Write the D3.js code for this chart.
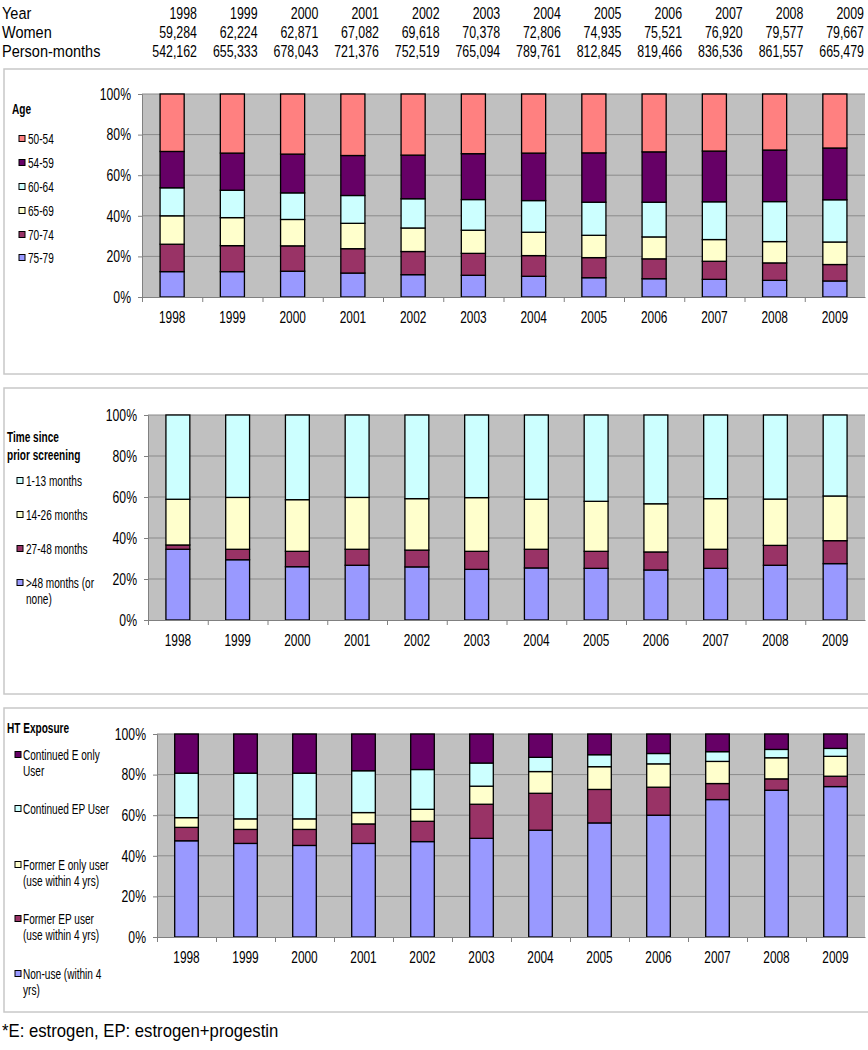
<!DOCTYPE html>
<html>
<head>
<meta charset="utf-8">
<script src="https://cdn.jsdelivr.net/npm/d3@7"></script>
<style>
html,body{margin:0;padding:0;background:#fff;}
svg{display:block;}
text{font-family:"Liberation Sans",Arial,sans-serif;}
</style>
</head>
<body>
<svg id="chart" width="868" height="1050"></svg>
<script>
// ---------- data ----------
const years = ["1998","1999","2000","2001","2002","2003","2004","2005","2006","2007","2008","2009"];
const women = [59284, 62224, 62871, 67082, 69618, 70378, 72806, 74935, 75521, 76920, 79577, 79667];
const personMonths = [542162, 655333, 678043, 721376, 752519, 765094, 789761, 812845, 819466, 836536, 861557, 665479];
const tableLabels = ["Year", "Women", "Person-months"];
const yTicks = [0, 0.2, 0.4, 0.6, 0.8, 1];

// Age (bottom to top), percent
const age7579 = [12.5,12.5,12.7,11.8,11.0,10.7,10.2,9.5,9.0,8.7,8.2,7.9];
const age7074 = [13.5,12.8,12.5,12.0,11.4,10.8,10.2,9.9,9.8,8.9,8.6,8.1];
const age6569 = [14.0,13.8,13.0,12.5,11.6,11.4,11.5,11.0,10.8,10.7,10.5,11.1];
const age6064 = [13.8,13.5,13.1,13.7,14.4,15.1,15.6,16.3,17.1,18.6,19.7,20.8];
const age5459 = [17.9,18.3,19.1,19.7,21.5,22.6,23.4,24.3,24.8,25.0,25.4,25.5];
const age5054 = [28.3,29.1,29.6,30.3,30.1,29.4,29.1,29.0,28.5,28.1,27.6,26.6];

// Time since prior screening (bottom to top)
const scrOver48 = [34.5,29.4,26.0,26.7,25.9,24.7,25.4,25.2,24.4,25.2,26.7,27.5];
const scr27to48 = [2.1,5.1,7.5,7.8,8.2,8.8,9.1,8.3,8.8,9.3,9.7,11.2];
const scr14to26 = [22.3,25.3,25.2,25.3,25.1,26.2,24.4,24.4,23.5,24.7,22.6,21.8];
const scr1to13  = [41.1,40.2,41.3,40.2,40.8,40.3,41.1,42.1,43.3,40.8,41.0,39.5];

// HT exposure (bottom to top)
const htNonUse   = [47.4,46.1,45.1,46.1,47.0,48.6,52.6,56.2,60.0,67.7,72.3,74.1];
const htFormerEP = [6.6,6.9,7.9,9.6,10.0,16.8,18.2,16.5,13.8,7.9,5.6,5.1];
const htFormerE  = [4.8,5.2,5.2,5.6,5.9,8.9,10.7,11.2,11.5,10.9,10.4,9.8];
const htContEP   = [21.9,22.5,22.5,20.6,19.6,11.4,7.0,5.9,5.1,4.8,4.1,3.9];
const htContE    = [19.3,19.3,19.3,18.1,17.5,14.3,11.5,10.2,9.6,8.7,7.6,7.1];

const footnote = "*E: estrogen, EP: estrogen+progestin";

// ---------- drawing ----------
const svg = d3.select("#chart");
svg.append("rect").attr("width",868).attr("height",1050).attr("fill","#fff");

// table
const colX = d3.scaleLinear().domain([0, 11]).range([197, 864]);
const rowY = [13, 32, 51];
const fmt = d3.format(",");
const rows = [years, women.map(fmt), personMonths.map(fmt)];
rows.forEach((row, r) => {
  svg.append("text").attr("data-sx",0.88).attr("x",2).attr("y",rowY[r]).attr("dy","0.36em")
    .attr("font-size",16.5).attr("fill","#000").text(tableLabels[r]);
  svg.selectAll(null).data(row).enter().append("text").attr("data-sx",0.75)
    .attr("x",(d,i)=>colX(i)).attr("y",rowY[r]).attr("dy","0.36em")
    .attr("text-anchor","end").attr("font-size",16.5).attr("fill","#000").text(d=>d);
});

function drawPanel(cfg) {
  const g = svg.append("g");
  g.append("rect").attr("x",4).attr("y",cfg.box[0]).attr("width",880).attr("height",cfg.box[1]-cfg.box[0])
    .attr("fill","#fff").attr("stroke","#c8c8c8").attr("stroke-width",1.5);
  const x = d3.scaleBand().domain(years).range([cfg.plot[0], cfg.plot[1]]).paddingInner(0.6).paddingOuter(0.3);
  const y = d3.scaleLinear().domain([0,1]).range([cfg.plot[3], cfg.plot[2]]);
  g.append("rect").attr("x",cfg.plot[0]).attr("y",cfg.plot[2])
    .attr("width",cfg.plot[1]-cfg.plot[0]).attr("height",cfg.plot[3]-cfg.plot[2]).attr("fill","#c0c0c0");
  g.selectAll(null).data(yTicks.slice(1)).enter().append("line")
    .attr("x1",cfg.plot[0]).attr("x2",cfg.plot[1]).attr("y1",d=>y(d)).attr("y2",d=>y(d))
    .attr("stroke","#8a8a8a").attr("stroke-width",1);
  const keys = cfg.series.map(s=>s.name);
  const table = years.map((yr,i)=>{ const o={year:yr}; cfg.series.forEach(s=>o[s.name]=s.values[i]); return o; });
  const stacked = d3.stack().keys(keys).offset(d3.stackOffsetExpand)(table);
  const layers = g.selectAll(null).data(stacked).enter().append("g")
    .attr("fill",(d,i)=>cfg.series[i].color);
  layers.selectAll("rect").data(d=>d).enter().append("rect")
    .attr("x",d=>x(d.data.year)).attr("width",x.bandwidth())
    .attr("y",d=>y(d[1])).attr("height",d=>y(d[0])-y(d[1]))
    .attr("stroke","#000").attr("stroke-width",1.3);
  const ya = g.append("g").attr("transform",`translate(${cfg.plot[0]},0)`)
    .call(d3.axisLeft(y).tickValues(yTicks).tickFormat(d3.format(".0%")).tickSize(4).tickPadding(7));
  ya.select(".domain").attr("stroke","#808080");
  ya.selectAll(".tick line").attr("stroke","#808080");
  ya.selectAll("text").attr("data-sx",0.74).attr("font-size",16.5).attr("fill","#000").attr("font-family",null);
  const xb = d3.scaleLinear().domain([0,12]).range([cfg.plot[0], cfg.plot[1]]);
  const xa = g.append("g").attr("transform",`translate(0,${cfg.plot[3]})`)
    .call(d3.axisBottom(xb).tickValues(d3.range(0,12)).tickFormat("").tickSize(5).tickSizeOuter(0));
  xa.select(".domain").attr("stroke","#808080");
  xa.selectAll(".tick line").attr("stroke","#808080");
  const xl = g.append("g").attr("transform",`translate(0,${cfg.plot[3]})`)
    .call(d3.axisBottom(x).tickSize(0).tickPadding(cfg.xLabelY - cfg.plot[3] - 9));
  xl.select(".domain").remove();
  xl.selectAll("text").attr("data-sx",0.72).attr("font-size",16.5).attr("fill","#000").attr("font-family",null);
  cfg.title.forEach((t,i)=>{
    g.append("text").attr("data-sx",0.72).attr("x",cfg.titleX).attr("y",cfg.titleY + i*18).attr("dy","0.36em")
      .attr("font-size",14).attr("font-weight","bold").attr("fill","#000").text(t);
  });
  cfg.legend.forEach((it)=>{
    const s = cfg.series.find(q=>q.name===it.name);
    const cy = it.y;
    g.append("rect").attr("x",cfg.swX).attr("y",cy-3.5).attr("width",6).attr("height",6)
      .attr("fill",s.color).attr("stroke","#000").attr("stroke-width",1);
    it.lines.forEach((ln,j)=>{
      g.append("text").attr("data-sx",0.72).attr("x", cfg.txX).attr("y",cy + j*cfg.lineH).attr("dy","0.36em")
        .attr("font-size",14).attr("fill","#000").text(ln);
    });
  });
}

const C = {pink:"#ff8080", plum:"#660066", cyan:"#ccffff", cream:"#ffffcc", wine:"#993366", blue:"#9999ff"};

drawPanel({
  box:[69,374], plot:[142,865,94,297], xLabelY:320,
  series:[
    {name:"75-79",values:age7579,color:C.blue},
    {name:"70-74",values:age7074,color:C.wine},
    {name:"65-69",values:age6569,color:C.cream},
    {name:"60-64",values:age6064,color:C.cyan},
    {name:"54-59",values:age5459,color:C.plum},
    {name:"50-54",values:age5054,color:C.pink}
  ],
  title:["Age"], titleX:12, titleY:109,
  swX:19, txX:28, lineH:16,
  legend:[
    {name:"50-54",y:139,lines:["50-54"]},
    {name:"54-59",y:163,lines:["54-59"]},
    {name:"60-64",y:187,lines:["60-64"]},
    {name:"65-69",y:211,lines:["65-69"]},
    {name:"70-74",y:235,lines:["70-74"]},
    {name:"75-79",y:258,lines:["75-79"]}
  ]
});

drawPanel({
  box:[388,694], plot:[148,865,415,620], xLabelY:643,
  series:[
    {name:">48",values:scrOver48,color:C.blue},
    {name:"27-48",values:scr27to48,color:C.wine},
    {name:"14-26",values:scr14to26,color:C.cream},
    {name:"1-13",values:scr1to13,color:C.cyan}
  ],
  title:["Time since","prior screening"], titleX:7, titleY:437,
  swX:17, txX:26, lineH:16,
  legend:[
    {name:"1-13",y:481,lines:["1-13 months"]},
    {name:"14-26",y:515,lines:["14-26 months"]},
    {name:"27-48",y:549,lines:["27-48 months"]},
    {name:">48",y:583,lines:[">48 months (or","none)"]}
  ]
});

drawPanel({
  box:[708,1012], plot:[157,865,734,937], xLabelY:960,
  series:[
    {name:"non",values:htNonUse,color:C.blue},
    {name:"fEP",values:htFormerEP,color:C.wine},
    {name:"fE",values:htFormerE,color:C.cream},
    {name:"cEP",values:htContEP,color:C.cyan},
    {name:"cE",values:htContE,color:C.plum}
  ],
  title:["HT Exposure"], titleX:7, titleY:728,
  swX:15, txX:23, lineH:15.5,
  legend:[
    {name:"cE",y:755,lines:["Continued E only","User"]},
    {name:"cEP",y:809,lines:["Continued EP User"]},
    {name:"fE",y:865,lines:["Former E only user","(use within 4 yrs)"]},
    {name:"fEP",y:919,lines:["Former EP user","(use within 4 yrs)"]},
    {name:"non",y:974,lines:["Non-use (within 4","yrs)"]}
  ]
});

svg.append("text").attr("data-sx",0.955).attr("x",2).attr("y",1031).attr("dy","0.36em")
  .attr("font-size",17.5).attr("fill","#000").text(footnote);

// horizontal condensing (about each text's anchor) to match the reference's narrow lettering
svg.selectAll("text[data-sx]").each(function(){
  const k = +this.getAttribute("data-sx");
  const ax = +(this.getAttribute("x") || 0);
  d3.select(this).attr("transform", `translate(${ax},0) scale(${k},1) translate(${-ax},0)`);
});
</script>
</body>
</html>
